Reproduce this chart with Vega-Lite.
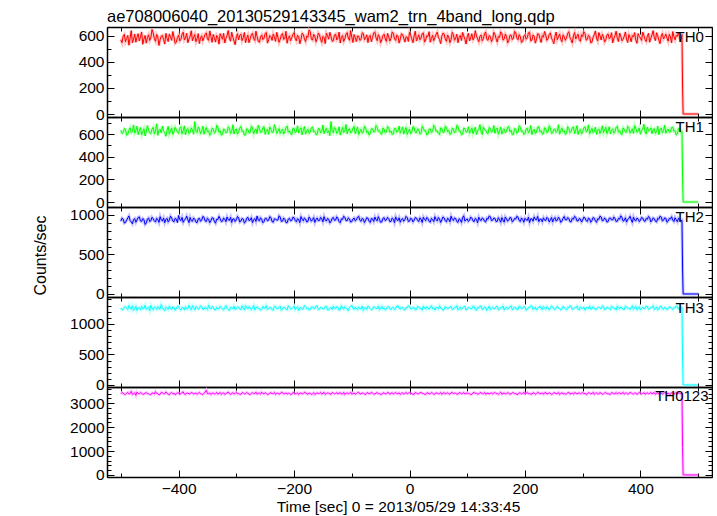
{
"$schema": "https://vega.github.io/schema/vega-lite/v6.json",
"padding": {"left": 31, "top": 9, "right": 0, "bottom": 0},
"bounds": "flush",
"spacing": 0,
"title": {"text": "ae708006040_20130529143345_wam2_trn_4band_long.qdp", "anchor": "start", "frame": "group", "offset": -3, "fontSize": 16.5, "fontWeight": "normal", "font": "Liberation Sans", "color": "black"},
"config": {
  "font": "Liberation Sans",
  "view": {"stroke": "black", "strokeWidth": 1},
  "concat": {"spacing": 0},
  "axis": {"grid": false, "domainColor": "black", "domainWidth": 1.5, "tickColor": "black", "tickWidth": 1, "labelColor": "black", "titleColor": "black", "labelFont": "Liberation Sans", "titleFont": "Liberation Sans", "labelFontSize": 15.5, "titleFontSize": 16, "titleFontWeight": "normal", "labelOverlap": false, "labelFlush": false, "labelBound": false}
},
"datasets": {"lc": [
{"t":-500,"a":571,"b":633,"c":921,"d":1262,"e":3391},
{"t":-498,"a":548,"b":605,"c":960,"d":1229,"e":3442},
{"t":-496,"a":598,"b":612,"c":948,"d":1240,"e":3420},
{"t":-494,"a":612,"b":648,"c":897,"d":1274,"e":3368},
{"t":-492,"a":556,"b":641,"c":905,"d":1281,"e":3372},
{"t":-490,"a":580,"b":589,"c":935,"d":1250,"e":3409},
{"t":-488,"a":604,"b":598,"c":962,"d":1233,"e":3448},
{"t":-486,"a":529,"b":633,"c":988,"d":1301,"e":3386},
{"t":-484,"a":583,"b":655,"c":930,"d":1270,"e":3405},
{"t":-482,"a":641,"b":611,"c":912,"d":1238,"e":3495},
{"t":-480,"a":547,"b":620,"c":889,"d":1296,"e":3362},
{"t":-478,"a":575,"b":680,"c":941,"d":1222,"e":3401},
{"t":-476,"a":615,"b":607,"c":954,"d":1248,"e":3431},
{"t":-474,"a":552,"b":631,"c":908,"d":1289,"e":3327},
{"t":-472,"a":590,"b":668,"c":937,"d":1219,"e":3466},
{"t":-470,"a":617,"b":594,"c":969,"d":1257,"e":3412},
{"t":-468,"a":562,"b":628,"c":976,"d":1265,"e":3389},
{"t":-466,"a":593,"b":657,"c":925,"d":1233,"e":3450},
{"t":-464,"a":631,"b":594,"c":918,"d":1287,"e":3410},
{"t":-462,"a":536,"b":621,"c":955,"d":1245,"e":3371},
{"t":-460,"a":577,"b":646,"c":941,"d":1251,"e":3377},
{"t":-458,"a":604,"b":583,"c":880,"d":1306,"e":3423},
{"t":-456,"a":545,"b":619,"c":899,"d":1238,"e":3442},
{"t":-454,"a":588,"b":674,"c":947,"d":1262,"e":3396},
{"t":-452,"a":609,"b":637,"c":963,"d":1276,"e":3398},
{"t":-450,"a":566,"b":610,"c":918,"d":1214,"e":3358},
{"t":-448,"a":586,"b":603,"c":927,"d":1301,"e":3356},
{"t":-446,"a":650,"b":644,"c":971,"d":1256,"e":3429},
{"t":-444,"a":623,"b":659,"c":952,"d":1229,"e":3417},
{"t":-442,"a":580,"b":602,"c":926,"d":1281,"e":3385},
{"t":-440,"a":559,"b":625,"c":911,"d":1259,"e":3483},
{"t":-438,"a":611,"b":690,"c":958,"d":1237,"e":3406},
{"t":-436,"a":594,"b":588,"c":944,"d":1283,"e":3401},
{"t":-434,"a":527,"b":633,"c":906,"d":1248,"e":3344},
{"t":-432,"a":571,"b":642,"c":979,"d":1242,"e":3369},
{"t":-430,"a":599,"b":609,"c":937,"d":1318,"e":3451},
{"t":-428,"a":604,"b":671,"c":925,"d":1267,"e":3437},
{"t":-426,"a":573,"b":624,"c":961,"d":1230,"e":3390},
{"t":-424,"a":538,"b":615,"c":903,"d":1215,"e":3392},
{"t":-422,"a":620,"b":580,"c":944,"d":1277,"e":3470},
{"t":-420,"a":582,"b":632,"c":957,"d":1254,"e":3414},
{"t":-418,"a":557,"b":667,"c":912,"d":1236,"e":3375},
{"t":-416,"a":616,"b":599,"c":936,"d":1292,"e":3351},
{"t":-414,"a":590,"b":626,"c":985,"d":1260,"e":3419},
{"t":-412,"a":567,"b":653,"c":962,"d":1236,"e":3446},
{"t":-410,"a":634,"b":597,"c":924,"d":1279,"e":3398},
{"t":-408,"a":592,"b":621,"c":915,"d":1271,"e":3408},
{"t":-406,"a":543,"b":659,"c":957,"d":1224,"e":3363},
{"t":-404,"a":551,"b":640,"c":948,"d":1249,"e":3383},
{"t":-402,"a":588,"b":615,"c":904,"d":1290,"e":3437},
{"t":-400,"a":607,"b":606,"c":994,"d":1288,"e":3427},
{"t":-398,"a":562,"b":651,"c":942,"d":1245,"e":3374},
{"t":-396,"a":574,"b":664,"c":930,"d":1225,"e":3398},
{"t":-394,"a":613,"b":600,"c":969,"d":1268,"e":3452},
{"t":-392,"a":629,"b":628,"c":907,"d":1263,"e":3471},
{"t":-390,"a":569,"b":672,"c":934,"d":1233,"e":3381},
{"t":-388,"a":585,"b":592,"c":951,"d":1281,"e":3366},
{"t":-386,"a":621,"b":639,"c":986,"d":1247,"e":3425},
{"t":-384,"a":548,"b":647,"c":939,"d":1244,"e":3419},
{"t":-382,"a":577,"b":603,"c":903,"d":1305,"e":3392},
{"t":-380,"a":598,"b":617,"c":968,"d":1256,"e":3392},
{"t":-378,"a":640,"b":654,"c":927,"d":1230,"e":3448},
{"t":-376,"a":563,"b":635,"c":921,"d":1297,"e":3436},
{"t":-374,"a":591,"b":598,"c":962,"d":1263,"e":3380},
{"t":-372,"a":611,"b":709,"c":945,"d":1232,"e":3405},
{"t":-370,"a":556,"b":624,"c":910,"d":1284,"e":3427},
{"t":-368,"a":579,"b":611,"c":902,"d":1268,"e":3372},
{"t":-366,"a":618,"b":661,"c":951,"d":1241,"e":3417},
{"t":-364,"a":542,"b":644,"c":958,"d":1251,"e":3450},
{"t":-362,"a":585,"b":603,"c":921,"d":1296,"e":3390},
{"t":-360,"a":601,"b":622,"c":934,"d":1285,"e":3389},
{"t":-358,"a":563,"b":670,"c":981,"d":1238,"e":3357},
{"t":-356,"a":587,"b":598,"c":972,"d":1239,"e":3413},
{"t":-354,"a":612,"b":635,"c":925,"d":1272,"e":3466},
{"t":-352,"a":624,"b":657,"c":917,"d":1262,"e":3540},
{"t":-350,"a":578,"b":617,"c":959,"d":1233,"e":3398},
{"t":-348,"a":566,"b":629,"c":946,"d":1307,"e":3395},
{"t":-346,"a":639,"b":589,"c":903,"d":1260,"e":3431},
{"t":-344,"a":597,"b":604,"c":928,"d":1246,"e":3361},
{"t":-342,"a":551,"b":652,"c":966,"d":1285,"e":3418},
{"t":-340,"a":612,"b":641,"c":960,"d":1273,"e":3428},
{"t":-338,"a":586,"b":608,"c":920,"d":1229,"e":3379},
{"t":-336,"a":553,"b":617,"c":896,"d":1228,"e":3402},
{"t":-334,"a":604,"b":676,"c":947,"d":1270,"e":3452},
{"t":-332,"a":589,"b":662,"c":942,"d":1259,"e":3378},
{"t":-330,"a":537,"b":615,"c":983,"d":1244,"e":3411},
{"t":-328,"a":618,"b":630,"c":953,"d":1289,"e":3446},
{"t":-326,"a":596,"b":591,"c":917,"d":1262,"e":3368},
{"t":-324,"a":575,"b":595,"c":921,"d":1241,"e":3411},
{"t":-322,"a":620,"b":644,"c":961,"d":1225,"e":3432},
{"t":-320,"a":546,"b":638,"c":948,"d":1270,"e":3365},
{"t":-318,"a":581,"b":610,"c":914,"d":1299,"e":3399},
{"t":-316,"a":603,"b":614,"c":975,"d":1252,"e":3432},
{"t":-314,"a":642,"b":663,"c":940,"d":1236,"e":3468},
{"t":-312,"a":584,"b":651,"c":931,"d":1222,"e":3398},
{"t":-310,"a":560,"b":605,"c":970,"d":1273,"e":3362},
{"t":-308,"a":629,"b":623,"c":906,"d":1264,"e":3419},
{"t":-306,"a":590,"b":682,"c":949,"d":1248,"e":3437},
{"t":-304,"a":561,"b":600,"c":950,"d":1291,"e":3387},
{"t":-302,"a":533,"b":637,"c":918,"d":1233,"e":3405},
{"t":-300,"a":593,"b":645,"c":938,"d":1247,"e":3453},
{"t":-298,"a":617,"b":598,"c":981,"d":1279,"e":3390},
{"t":-296,"a":570,"b":619,"c":962,"d":1276,"e":3404},
{"t":-294,"a":605,"b":652,"c":911,"d":1241,"e":3371},
{"t":-292,"a":614,"b":668,"c":924,"d":1236,"e":3371},
{"t":-290,"a":564,"b":622,"c":956,"d":1295,"e":3439},
{"t":-288,"a":588,"b":627,"c":947,"d":1260,"e":3426},
{"t":-286,"a":627,"b":590,"c":898,"d":1230,"e":3384},
{"t":-284,"a":549,"b":593,"c":912,"d":1298,"e":3395},
{"t":-282,"a":583,"b":647,"c":959,"d":1265,"e":3448},
{"t":-280,"a":606,"b":639,"c":970,"d":1244,"e":3414},
{"t":-278,"a":548,"b":609,"c":929,"d":1281,"e":3373},
{"t":-276,"a":578,"b":612,"c":935,"d":1268,"e":3359},
{"t":-274,"a":609,"b":670,"c":966,"d":1232,"e":3420},
{"t":-272,"a":621,"b":656,"c":903,"d":1251,"e":3441},
{"t":-270,"a":580,"b":601,"c":942,"d":1302,"e":3393},
{"t":-268,"a":565,"b":631,"c":954,"d":1229,"e":3400},
{"t":-266,"a":637,"b":645,"c":918,"d":1260,"e":3462},
{"t":-264,"a":596,"b":602,"c":988,"d":1282,"e":3377},
{"t":-262,"a":559,"b":678,"c":936,"d":1245,"e":3412},
{"t":-260,"a":552,"b":646,"c":926,"d":1257,"e":3429},
{"t":-258,"a":594,"b":613,"c":965,"d":1224,"e":3381},
{"t":-256,"a":608,"b":620,"c":944,"d":1238,"e":3462},
{"t":-254,"a":572,"b":656,"c":901,"d":1286,"e":3407},
{"t":-252,"a":583,"b":664,"c":917,"d":1272,"e":3388},
{"t":-250,"a":619,"b":597,"c":957,"d":1250,"e":3436},
{"t":-248,"a":627,"b":633,"c":958,"d":1300,"e":3411},
{"t":-246,"a":545,"b":641,"c":926,"d":1238,"e":3358},
{"t":-244,"a":571,"b":597,"c":933,"d":1245,"e":3375},
{"t":-242,"a":603,"b":662,"c":979,"d":1273,"e":3426},
{"t":-240,"a":594,"b":640,"c":966,"d":1263,"e":3437},
{"t":-238,"a":566,"b":614,"c":915,"d":1228,"e":3394},
{"t":-236,"a":615,"b":616,"c":909,"d":1226,"e":3402},
{"t":-234,"a":590,"b":683,"c":952,"d":1291,"e":3449},
{"t":-232,"a":558,"b":652,"c":949,"d":1279,"e":3366},
{"t":-230,"a":628,"b":606,"c":932,"d":1247,"e":3413},
{"t":-228,"a":591,"b":625,"c":937,"d":1253,"e":3420},
{"t":-226,"a":551,"b":648,"c":990,"d":1266,"e":3376},
{"t":-224,"a":573,"b":606,"c":974,"d":1289,"e":3391},
{"t":-222,"a":607,"b":630,"c":919,"d":1221,"e":3455},
{"t":-220,"a":619,"b":643,"c":921,"d":1240,"e":3449},
{"t":-218,"a":574,"b":600,"c":961,"d":1274,"e":3387},
{"t":-216,"a":580,"b":618,"c":945,"d":1266,"e":3405},
{"t":-214,"a":636,"b":659,"c":905,"d":1239,"e":3428},
{"t":-212,"a":544,"b":671,"c":902,"d":1231,"e":3383},
{"t":-210,"a":587,"b":616,"c":947,"d":1297,"e":3412},
{"t":-208,"a":601,"b":628,"c":958,"d":1275,"e":3416},
{"t":-206,"a":563,"b":601,"c":926,"d":1243,"e":3364},
{"t":-204,"a":586,"b":594,"c":931,"d":1248,"e":3370},
{"t":-202,"a":611,"b":650,"c":971,"d":1268,"e":3445},
{"t":-200,"a":625,"b":649,"c":967,"d":1293,"e":3435},
{"t":-198,"a":582,"b":612,"c":930,"d":1233,"e":3393},
{"t":-196,"a":563,"b":621,"c":913,"d":1257,"e":3398},
{"t":-194,"a":604,"b":672,"c":953,"d":1282,"e":3437},
{"t":-192,"a":597,"b":608,"c":942,"d":1220,"e":3361},
{"t":-190,"a":540,"b":637,"c":903,"d":1260,"e":3420},
{"t":-188,"a":572,"b":655,"c":980,"d":1269,"e":3427},
{"t":-186,"a":621,"b":593,"c":947,"d":1239,"e":3389},
{"t":-184,"a":613,"b":632,"c":926,"d":1244,"e":3403},
{"t":-182,"a":578,"b":666,"c":962,"d":1301,"e":3456},
{"t":-180,"a":556,"b":599,"c":949,"d":1285,"e":3445},
{"t":-178,"a":600,"b":628,"c":911,"d":1249,"e":3382},
{"t":-176,"a":590,"b":643,"c":918,"d":1261,"e":3379},
{"t":-174,"a":646,"b":607,"c":975,"d":1228,"e":3421},
{"t":-172,"a":633,"b":614,"c":955,"d":1235,"e":3412},
{"t":-170,"a":577,"b":655,"c":921,"d":1278,"e":3366},
{"t":-168,"a":568,"b":661,"c":939,"d":1278,"e":3394},
{"t":-166,"a":612,"b":620,"c":968,"d":1254,"e":3440},
{"t":-164,"a":599,"b":626,"c":906,"d":1250,"e":3368},
{"t":-162,"a":555,"b":596,"c":943,"d":1291,"e":3401},
{"t":-160,"a":577,"b":595,"c":962,"d":1294,"e":3431},
{"t":-158,"a":623,"b":648,"c":927,"d":1232,"e":3399},
{"t":-156,"a":610,"b":647,"c":930,"d":1238,"e":3407},
{"t":-154,"a":574,"b":609,"c":970,"d":1270,"e":3453},
{"t":-152,"a":551,"b":622,"c":951,"d":1266,"e":3382},
{"t":-150,"a":597,"b":679,"c":913,"d":1243,"e":3416},
{"t":-148,"a":588,"b":603,"c":979,"d":1245,"e":3452},
{"t":-146,"a":541,"b":635,"c":938,"d":1286,"e":3372},
{"t":-144,"a":622,"b":650,"c":923,"d":1283,"e":3399},
{"t":-142,"a":603,"b":612,"c":956,"d":1229,"e":3428},
{"t":-140,"a":575,"b":629,"c":946,"d":1227,"e":3415},
{"t":-138,"a":628,"b":585,"c":900,"d":1265,"e":3384},
{"t":-136,"a":596,"b":710,"c":914,"d":1262,"e":3373},
{"t":-134,"a":560,"b":631,"c":959,"d":1238,"e":3442},
{"t":-132,"a":562,"b":612,"c":968,"d":1290,"e":3426},
{"t":-130,"a":606,"b":657,"c":932,"d":1257,"e":3393},
{"t":-128,"a":615,"b":645,"c":935,"d":1249,"e":3404},
{"t":-126,"a":570,"b":605,"c":977,"d":1281,"e":3441},
{"t":-124,"a":584,"b":619,"c":957,"d":1271,"e":3385},
{"t":-122,"a":630,"b":664,"c":916,"d":1226,"e":3418},
{"t":-120,"a":546,"b":590,"c":901,"d":1233,"e":3440},
{"t":-118,"a":591,"b":626,"c":950,"d":1296,"e":3378},
{"t":-116,"a":603,"b":658,"c":944,"d":1258,"e":3396},
{"t":-114,"a":558,"b":614,"c":983,"d":1240,"e":3450},
{"t":-112,"a":579,"b":627,"c":971,"d":1281,"e":3362},
{"t":-110,"a":615,"b":684,"c":928,"d":1264,"e":3409},
{"t":-108,"a":626,"b":601,"c":927,"d":1242,"e":3433},
{"t":-106,"a":583,"b":636,"c":964,"d":1217,"e":3389},
{"t":-104,"a":567,"b":648,"c":950,"d":1269,"e":3410},
{"t":-102,"a":642,"b":608,"c":910,"d":1285,"e":3461},
{"t":-100,"a":592,"b":622,"c":916,"d":1303,"e":3377},
{"t":-98,"a":550,"b":650,"c":948,"d":1252,"e":3403},
{"t":-96,"a":611,"b":667,"c":962,"d":1237,"e":3424},
{"t":-94,"a":586,"b":601,"c":925,"d":1274,"e":3372},
{"t":-92,"a":557,"b":630,"c":938,"d":1255,"e":3401},
{"t":-90,"a":600,"b":663,"c":972,"d":1231,"e":3447},
{"t":-88,"a":598,"b":596,"c":983,"d":1277,"e":3455},
{"t":-86,"a":566,"b":621,"c":933,"d":1249,"e":3387},
{"t":-84,"a":573,"b":641,"c":920,"d":1246,"e":3388},
{"t":-82,"a":625,"b":608,"c":957,"d":1288,"e":3430},
{"t":-80,"a":618,"b":615,"c":947,"d":1224,"e":3414},
{"t":-78,"a":571,"b":669,"c":904,"d":1260,"e":3371},
{"t":-76,"a":585,"b":653,"c":932,"d":1266,"e":3369},
{"t":-74,"a":609,"b":612,"c":966,"d":1237,"e":3436},
{"t":-72,"a":549,"b":624,"c":959,"d":1292,"e":3430},
{"t":-70,"a":594,"b":590,"c":921,"d":1269,"e":3392},
{"t":-68,"a":604,"b":607,"c":905,"d":1251,"e":3397},
{"t":-66,"a":555,"b":646,"c":956,"d":1229,"e":3455},
{"t":-64,"a":589,"b":646,"c":951,"d":1239,"e":3422},
{"t":-62,"a":623,"b":617,"c":918,"d":1281,"e":3380},
{"t":-60,"a":632,"b":619,"c":974,"d":1274,"e":3384},
{"t":-58,"a":585,"b":675,"c":940,"d":1247,"e":3421},
{"t":-56,"a":564,"b":660,"c":926,"d":1257,"e":3443},
{"t":-54,"a":610,"b":624,"c":979,"d":1292,"e":3398},
{"t":-52,"a":595,"b":631,"c":943,"d":1230,"e":3406},
{"t":-50,"a":548,"b":603,"c":908,"d":1263,"e":3367},
{"t":-48,"a":571,"b":598,"c":912,"d":1288,"e":3374},
{"t":-46,"a":603,"b":652,"c":957,"d":1244,"e":3432},
{"t":-44,"a":614,"b":642,"c":965,"d":1261,"e":3418},
{"t":-42,"a":577,"b":609,"c":929,"d":1227,"e":3390},
{"t":-40,"a":558,"b":617,"c":937,"d":1245,"e":3392},
{"t":-38,"a":620,"b":666,"c":970,"d":1280,"e":3451},
{"t":-36,"a":593,"b":655,"c":954,"d":1283,"e":3437},
{"t":-34,"a":561,"b":614,"c":915,"d":1250,"e":3376},
{"t":-32,"a":581,"b":628,"c":919,"d":1236,"e":3409},
{"t":-30,"a":631,"b":595,"c":962,"d":1270,"e":3440},
{"t":-28,"a":621,"b":601,"c":948,"d":1267,"e":3381},
{"t":-26,"a":578,"b":650,"c":903,"d":1232,"e":3414},
{"t":-24,"a":566,"b":649,"c":976,"d":1252,"e":3448},
{"t":-22,"a":607,"b":615,"c":938,"d":1293,"e":3395},
{"t":-20,"a":599,"b":625,"c":930,"d":1296,"e":3400},
{"t":-18,"a":545,"b":670,"c":965,"d":1258,"e":3433},
{"t":-16,"a":576,"b":608,"c":908,"d":1241,"e":3366},
{"t":-14,"a":616,"b":632,"c":944,"d":1277,"e":3412},
{"t":-12,"a":612,"b":663,"c":955,"d":1270,"e":3428},
{"t":-10,"a":583,"b":599,"c":921,"d":1235,"e":3383},
{"t":-8,"a":553,"b":634,"c":941,"d":1228,"e":3403},
{"t":-6,"a":594,"b":657,"c":982,"d":1266,"e":3452},
{"t":-4,"a":590,"b":597,"c":967,"d":1259,"e":3387},
{"t":-2,"a":558,"b":622,"c":917,"d":1298,"e":3424},
{"t":0,"a":627,"b":644,"c":923,"d":1286,"e":3441},
{"t":2,"a":606,"b":603,"c":959,"d":1244,"e":3396},
{"t":4,"a":578,"b":620,"c":950,"d":1247,"e":3410},
{"t":6,"a":548,"b":665,"c":912,"d":1270,"e":3367},
{"t":8,"a":601,"b":657,"c":934,"d":1265,"e":3376},
{"t":10,"a":637,"b":614,"c":968,"d":1231,"e":3445},
{"t":12,"a":561,"b":611,"c":961,"d":1233,"e":3420},
{"t":14,"a":585,"b":647,"c":930,"d":1288,"e":3392},
{"t":16,"a":609,"b":639,"c":917,"d":1279,"e":3396},
{"t":18,"a":571,"b":600,"c":964,"d":1252,"e":3434},
{"t":20,"a":584,"b":605,"c":946,"d":1254,"e":3451},
{"t":22,"a":618,"b":669,"c":905,"d":1226,"e":3408},
{"t":24,"a":624,"b":651,"c":972,"d":1291,"e":3405},
{"t":26,"a":553,"b":626,"c":944,"d":1262,"e":3371},
{"t":28,"a":569,"b":626,"c":928,"d":1240,"e":3368},
{"t":30,"a":603,"b":591,"c":970,"d":1281,"e":3427},
{"t":32,"a":596,"b":600,"c":953,"d":1262,"e":3432},
{"t":34,"a":633,"b":643,"c":919,"d":1239,"e":3389},
{"t":36,"a":552,"b":645,"c":910,"d":1275,"e":3399},
{"t":38,"a":580,"b":611,"c":957,"d":1297,"e":3446},
{"t":40,"a":605,"b":622,"c":944,"d":1244,"e":3417},
{"t":42,"a":564,"b":677,"c":916,"d":1263,"e":3374},
{"t":44,"a":587,"b":664,"c":979,"d":1226,"e":3383},
{"t":46,"a":612,"b":624,"c":943,"d":1270,"e":3431},
{"t":48,"a":629,"b":629,"c":925,"d":1268,"e":3426},
{"t":50,"a":590,"b":604,"c":968,"d":1246,"e":3392},
{"t":52,"a":573,"b":595,"c":949,"d":1298,"e":3402},
{"t":54,"a":541,"b":654,"c":906,"d":1259,"e":3448},
{"t":56,"a":598,"b":648,"c":936,"d":1250,"e":3373},
{"t":58,"a":622,"b":613,"c":975,"d":1223,"e":3413},
{"t":60,"a":616,"b":616,"c":963,"d":1237,"e":3445},
{"t":62,"a":575,"b":670,"c":926,"d":1286,"e":3386},
{"t":64,"a":559,"b":658,"c":914,"d":1271,"e":3409},
{"t":66,"a":607,"b":619,"c":958,"d":1244,"e":3437},
{"t":68,"a":592,"b":632,"c":948,"d":1258,"e":3388},
{"t":70,"a":549,"b":597,"c":914,"d":1279,"e":3376},
{"t":72,"a":570,"b":603,"c":985,"d":1285,"e":3434},
{"t":74,"a":628,"b":651,"c":945,"d":1236,"e":3455},
{"t":76,"a":611,"b":644,"c":930,"d":1243,"e":3397},
{"t":78,"a":567,"b":610,"c":963,"d":1272,"e":3418},
{"t":80,"a":583,"b":621,"c":954,"d":1264,"e":3419},
{"t":82,"a":614,"b":676,"c":917,"d":1297,"e":3379},
{"t":84,"a":548,"b":668,"c":907,"d":1230,"e":3378},
{"t":86,"a":590,"b":625,"c":952,"d":1255,"e":3440},
{"t":88,"a":603,"b":627,"c":941,"d":1277,"e":3440},
{"t":90,"a":565,"b":593,"c":906,"d":1238,"e":3386},
{"t":92,"a":627,"b":598,"c":968,"d":1252,"e":3406},
{"t":94,"a":600,"b":652,"c":990,"d":1282,"e":3447},
{"t":96,"a":575,"b":646,"c":922,"d":1289,"e":3385},
{"t":98,"a":538,"b":617,"c":941,"d":1227,"e":3410},
{"t":100,"a":594,"b":619,"c":950,"d":1239,"e":3429},
{"t":102,"a":621,"b":664,"c":918,"d":1270,"e":3398},
{"t":104,"a":562,"b":607,"c":933,"d":1266,"e":3401},
{"t":106,"a":586,"b":631,"c":974,"d":1247,"e":3362},
{"t":108,"a":617,"b":654,"c":959,"d":1248,"e":3367},
{"t":110,"a":570,"b":602,"c":925,"d":1289,"e":3431},
{"t":112,"a":586,"b":630,"c":916,"d":1281,"e":3454},
{"t":114,"a":641,"b":661,"c":957,"d":1234,"e":3403},
{"t":116,"a":600,"b":596,"c":945,"d":1225,"e":3412},
{"t":118,"a":578,"b":627,"c":903,"d":1268,"e":3376},
{"t":120,"a":555,"b":642,"c":972,"d":1260,"e":3390},
{"t":122,"a":597,"b":683,"c":939,"d":1291,"e":3441},
{"t":124,"a":608,"b":618,"c":929,"d":1293,"e":3436},
{"t":126,"a":563,"b":596,"c":962,"d":1236,"e":3392},
{"t":128,"a":580,"b":662,"c":952,"d":1245,"e":3398},
{"t":130,"a":619,"b":637,"c":920,"d":1276,"e":3450},
{"t":132,"a":631,"b":633,"c":911,"d":1269,"e":3371},
{"t":134,"a":574,"b":609,"c":958,"d":1221,"e":3414},
{"t":136,"a":567,"b":602,"c":946,"d":1254,"e":3425},
{"t":138,"a":604,"b":658,"c":987,"d":1288,"e":3386},
{"t":140,"a":596,"b":649,"c":978,"d":1232,"e":3407},
{"t":142,"a":556,"b":616,"c":929,"d":1259,"e":3439},
{"t":144,"a":573,"b":623,"c":934,"d":1276,"e":3382},
{"t":146,"a":628,"b":675,"c":961,"d":1245,"e":3423},
{"t":148,"a":612,"b":606,"c":957,"d":1251,"e":3447},
{"t":150,"a":579,"b":640,"c":916,"d":1283,"e":3395},
{"t":152,"a":553,"b":653,"c":920,"d":1287,"e":3403},
{"t":154,"a":597,"b":598,"c":966,"d":1230,"e":3370},
{"t":156,"a":589,"b":628,"c":943,"d":1241,"e":3418},
{"t":158,"a":632,"b":661,"c":908,"d":1271,"e":3461},
{"t":160,"a":619,"b":599,"c":967,"d":1263,"e":3376},
{"t":162,"a":568,"b":630,"c":935,"d":1295,"e":3408},
{"t":164,"a":576,"b":645,"c":909,"d":1228,"e":3432},
{"t":166,"a":615,"b":612,"c":975,"d":1262,"e":3384},
{"t":168,"a":598,"b":621,"c":951,"d":1271,"e":3395},
{"t":170,"a":547,"b":660,"c":922,"d":1240,"e":3447},
{"t":172,"a":564,"b":667,"c":936,"d":1256,"e":3414},
{"t":174,"a":606,"b":619,"c":968,"d":1283,"e":3372},
{"t":176,"a":607,"b":634,"c":964,"d":1295,"e":3387},
{"t":178,"a":572,"b":594,"c":913,"d":1233,"e":3432},
{"t":180,"a":583,"b":597,"c":925,"d":1244,"e":3439},
{"t":182,"a":636,"b":648,"c":956,"d":1273,"e":3398},
{"t":184,"a":625,"b":642,"c":948,"d":1266,"e":3402},
{"t":186,"a":584,"b":606,"c":984,"d":1231,"e":3366},
{"t":188,"a":571,"b":616,"c":973,"d":1237,"e":3369},
{"t":190,"a":610,"b":673,"c":928,"d":1290,"e":3433},
{"t":192,"a":594,"b":659,"c":917,"d":1280,"e":3428},
{"t":194,"a":551,"b":622,"c":962,"d":1249,"e":3391},
{"t":196,"a":558,"b":627,"c":944,"d":1253,"e":3405},
{"t":198,"a":599,"b":596,"c":908,"d":1286,"e":3455},
{"t":200,"a":610,"b":604,"c":958,"d":1274,"e":3383},
{"t":202,"a":575,"b":645,"c":939,"d":1224,"e":3417},
{"t":204,"a":586,"b":651,"c":931,"d":1240,"e":3451},
{"t":206,"a":624,"b":610,"c":972,"d":1268,"e":3394},
{"t":208,"a":629,"b":625,"c":904,"d":1262,"e":3407},
{"t":210,"a":562,"b":676,"c":951,"d":1297,"e":3378},
{"t":212,"a":568,"b":595,"c":952,"d":1289,"e":3378},
{"t":214,"a":608,"b":628,"c":921,"d":1236,"e":3440},
{"t":216,"a":597,"b":643,"c":976,"d":1247,"e":3420},
{"t":218,"a":545,"b":604,"c":944,"d":1275,"e":3375},
{"t":220,"a":575,"b":618,"c":938,"d":1226,"e":3396},
{"t":222,"a":617,"b":661,"c":982,"d":1259,"e":3452},
{"t":224,"a":614,"b":664,"c":915,"d":1268,"e":3434},
{"t":226,"a":580,"b":619,"c":947,"d":1288,"e":3387},
{"t":228,"a":550,"b":631,"c":947,"d":1257,"e":3410},
{"t":230,"a":603,"b":598,"c":913,"d":1232,"e":3425},
{"t":232,"a":591,"b":602,"c":964,"d":1283,"e":3372},
{"t":234,"a":635,"b":655,"c":935,"d":1260,"e":3437},
{"t":236,"a":606,"b":647,"c":929,"d":1239,"e":3443},
{"t":238,"a":566,"b":611,"c":970,"d":1282,"e":3384},
{"t":240,"a":579,"b":620,"c":955,"d":1264,"e":3399},
{"t":242,"a":611,"b":672,"c":912,"d":1227,"e":3431},
{"t":244,"a":624,"b":657,"c":940,"d":1250,"e":3417},
{"t":246,"a":583,"b":606,"c":968,"d":1293,"e":3366},
{"t":248,"a":566,"b":609,"c":911,"d":1277,"e":3386},
{"t":250,"a":540,"b":643,"c":951,"d":1245,"e":3441},
{"t":252,"a":599,"b":641,"c":968,"d":1234,"e":3428},
{"t":254,"a":630,"b":614,"c":924,"d":1264,"e":3395},
{"t":256,"a":572,"b":625,"c":933,"d":1291,"e":3404},
{"t":258,"a":593,"b":682,"c":972,"d":1254,"e":3452},
{"t":260,"a":615,"b":598,"c":950,"d":1258,"e":3365},
{"t":262,"a":574,"b":631,"c":906,"d":1229,"e":3407},
{"t":264,"a":556,"b":652,"c":922,"d":1243,"e":3437},
{"t":266,"a":609,"b":618,"c":957,"d":1287,"e":3389},
{"t":268,"a":593,"b":629,"c":981,"d":1272,"e":3408},
{"t":270,"a":567,"b":597,"c":938,"d":1249,"e":3374},
{"t":272,"a":585,"b":605,"c":937,"d":1229,"e":3391},
{"t":274,"a":620,"b":664,"c":967,"d":1270,"e":3436},
{"t":276,"a":633,"b":648,"c":956,"d":1265,"e":3449},
{"t":278,"a":587,"b":611,"c":915,"d":1297,"e":3380},
{"t":280,"a":570,"b":621,"c":913,"d":1286,"e":3401},
{"t":282,"a":546,"b":657,"c":958,"d":1237,"e":3423},
{"t":284,"a":601,"b":661,"c":946,"d":1248,"e":3375},
{"t":286,"a":626,"b":603,"c":983,"d":1262,"e":3443},
{"t":288,"a":577,"b":634,"c":970,"d":1261,"e":3423},
{"t":290,"a":598,"b":674,"c":926,"d":1290,"e":3388},
{"t":292,"a":613,"b":596,"c":924,"d":1236,"e":3406},
{"t":294,"a":571,"b":632,"c":955,"d":1228,"e":3438},
{"t":296,"a":559,"b":640,"c":949,"d":1279,"e":3387},
{"t":298,"a":610,"b":601,"c":910,"d":1253,"e":3419},
{"t":300,"a":595,"b":617,"c":935,"d":1254,"e":3441},
{"t":302,"a":632,"b":656,"c":973,"d":1276,"e":3398},
{"t":304,"a":620,"b":663,"c":963,"d":1227,"e":3410},
{"t":306,"a":568,"b":619,"c":929,"d":1263,"e":3365},
{"t":308,"a":574,"b":626,"c":918,"d":1270,"e":3379},
{"t":310,"a":605,"b":681,"c":960,"d":1248,"e":3442},
{"t":312,"a":597,"b":603,"c":952,"d":1292,"e":3426},
{"t":314,"a":548,"b":628,"c":908,"d":1240,"e":3389},
{"t":316,"a":552,"b":650,"c":929,"d":1246,"e":3403},
{"t":318,"a":590,"b":611,"c":967,"d":1281,"e":3457},
{"t":320,"a":608,"b":622,"c":960,"d":1263,"e":3368},
{"t":322,"a":639,"b":661,"c":927,"d":1231,"e":3414},
{"t":324,"a":584,"b":597,"c":907,"d":1238,"e":3434},
{"t":326,"a":562,"b":634,"c":952,"d":1270,"e":3387},
{"t":328,"a":626,"b":645,"c":944,"d":1276,"e":3399},
{"t":330,"a":601,"b":605,"c":986,"d":1256,"e":3440},
{"t":332,"a":569,"b":632,"c":975,"d":1251,"e":3415},
{"t":334,"a":612,"b":672,"c":926,"d":1295,"e":3374},
{"t":336,"a":593,"b":611,"c":932,"d":1285,"e":3385},
{"t":338,"a":553,"b":637,"c":962,"d":1233,"e":3426},
{"t":340,"a":571,"b":659,"c":948,"d":1242,"e":3450},
{"t":342,"a":608,"b":603,"c":911,"d":1272,"e":3397},
{"t":344,"a":616,"b":628,"c":916,"d":1268,"e":3405},
{"t":346,"a":578,"b":664,"c":959,"d":1245,"e":3373},
{"t":348,"a":588,"b":600,"c":962,"d":1232,"e":3372},
{"t":350,"a":625,"b":633,"c":938,"d":1290,"e":3439},
{"t":352,"a":547,"b":646,"c":937,"d":1274,"e":3429},
{"t":354,"a":582,"b":607,"c":975,"d":1250,"e":3386},
{"t":356,"a":604,"b":619,"c":954,"d":1258,"e":3401},
{"t":358,"a":637,"b":660,"c":918,"d":1227,"e":3446},
{"t":360,"a":581,"b":668,"c":921,"d":1294,"e":3388},
{"t":362,"a":557,"b":616,"c":958,"d":1262,"e":3420},
{"t":364,"a":622,"b":630,"c":946,"d":1245,"e":3437},
{"t":366,"a":598,"b":601,"c":990,"d":1277,"e":3381},
{"t":368,"a":563,"b":594,"c":969,"d":1261,"e":3410},
{"t":370,"a":575,"b":654,"c":922,"d":1236,"e":3452},
{"t":372,"a":598,"b":641,"c":931,"d":1233,"e":3378},
{"t":374,"a":631,"b":618,"c":965,"d":1288,"e":3416},
{"t":376,"a":576,"b":615,"c":910,"d":1280,"e":3424},
{"t":378,"a":550,"b":667,"c":944,"d":1254,"e":3379},
{"t":380,"a":611,"b":656,"c":955,"d":1255,"e":3400},
{"t":382,"a":589,"b":607,"c":984,"d":1236,"e":3445},
{"t":384,"a":555,"b":627,"c":941,"d":1269,"e":3441},
{"t":386,"a":603,"b":645,"c":906,"d":1296,"e":3392},
{"t":388,"a":592,"b":605,"c":973,"d":1240,"e":3383},
{"t":390,"a":626,"b":675,"c":934,"d":1263,"e":3430},
{"t":392,"a":569,"b":649,"c":926,"d":1288,"e":3415},
{"t":394,"a":543,"b":614,"c":961,"d":1231,"e":3378},
{"t":396,"a":618,"b":624,"c":950,"d":1250,"e":3396},
{"t":398,"a":596,"b":653,"c":916,"d":1279,"e":3455},
{"t":400,"a":584,"b":598,"c":934,"d":1228,"e":3432},
{"t":402,"a":566,"b":630,"c":970,"d":1266,"e":3388},
{"t":404,"a":630,"b":643,"c":961,"d":1273,"e":3405},
{"t":406,"a":604,"b":686,"c":927,"d":1245,"e":3436},
{"t":408,"a":573,"b":620,"c":919,"d":1259,"e":3374},
{"t":410,"a":557,"b":600,"c":956,"d":1292,"e":3412},
{"t":412,"a":596,"b":662,"c":945,"d":1284,"e":3427},
{"t":414,"a":621,"b":627,"c":982,"d":1237,"e":3392},
{"t":416,"a":552,"b":633,"c":968,"d":1243,"e":3409},
{"t":418,"a":583,"b":654,"c":912,"d":1270,"e":3451},
{"t":420,"a":607,"b":602,"c":930,"d":1266,"e":3387},
{"t":422,"a":641,"b":640,"c":963,"d":1298,"e":3420},
{"t":424,"a":589,"b":647,"c":953,"d":1236,"e":3446},
{"t":426,"a":564,"b":606,"c":921,"d":1253,"e":3373},
{"t":428,"a":625,"b":621,"c":912,"d":1278,"e":3402},
{"t":430,"a":601,"b":668,"c":958,"d":1226,"e":3433},
{"t":432,"a":567,"b":594,"c":947,"d":1252,"e":3380},
{"t":434,"a":541,"b":638,"c":985,"d":1283,"e":3417},
{"t":436,"a":599,"b":652,"c":976,"d":1291,"e":3420},
{"t":438,"a":619,"b":611,"c":925,"d":1247,"e":3384},
{"t":440,"a":577,"b":629,"c":933,"d":1239,"e":3397},
{"t":442,"a":594,"b":679,"c":964,"d":1271,"e":3448},
{"t":444,"a":614,"b":606,"c":958,"d":1263,"e":3436},
{"t":446,"a":585,"b":633,"c":908,"d":1231,"e":3391},
{"t":448,"a":560,"b":644,"c":922,"d":1248,"e":3411},
{"t":450,"a":612,"b":616,"c":955,"d":1280,"e":3376},
{"t":452,"a":592,"b":618,"c":949,"d":1276,"e":3371},
{"t":454,"a":547,"b":657,"c":978,"d":1254,"e":3439},
{"t":456,"a":634,"b":661,"c":937,"d":1232,"e":3425},
{"t":458,"a":596,"b":624,"c":917,"d":1268,"e":3392},
{"t":460,"a":571,"b":630,"c":965,"d":1260,"e":3404},
{"t":462,"a":605,"b":592,"c":940,"d":1296,"e":3453},
{"t":464,"a":597,"b":599,"c":914,"d":1287,"e":3388},
{"t":466,"a":628,"b":648,"c":959,"d":1241,"e":3414},
{"t":468,"a":582,"b":645,"c":944,"d":1245,"e":3430},
{"t":470,"a":556,"b":613,"c":921,"d":1275,"e":3377},
{"t":472,"a":612,"b":622,"c":931,"d":1268,"e":3406},
{"t":473,"a":208,"b":215,"c":330,"d":430,"e":1140},
{"t":474,"a":0,"b":0,"c":0,"d":0,"e":0},
{"t":500,"a":0,"b":0,"c":0,"d":0,"e":0}
]},
"vconcat": [
{
 "width": 605, "height": 90,
 "layer": [
  {"data": {"name": "lc"},
   "mark": {"type": "line", "color": "#ff9a9a", "strokeWidth": 3, "opacity": 0.6},
   "encoding": {
    "x": {"field": "t", "type": "quantitative", "scale": {"domain": [-524, 524], "nice": false, "zero": false}, "axis": null},
    "y": {"field": "a", "type": "quantitative", "scale": {"domain": [-23, 669], "nice": false, "zero": false}, "axis": null}
   }},
  {"data": {"name": "lc"},
   "mark": {"type": "line", "color": "#ff0000", "strokeWidth": 1},
   "encoding": {
    "x": {"field": "t", "type": "quantitative", "scale": {"domain": [-524, 524], "nice": false, "zero": false},
          "axis": {"orient": "bottom", "title": null, "labels": false, "values": [-500,-400,-300,-200,-100,0,100,200,300,400,500], "tickSize": {"condition": {"test": "datum.value % 200 === 0", "value": -7}, "value": -4}}},
    "y": {"field": "a", "type": "quantitative", "scale": {"domain": [-23, 669], "nice": false, "zero": false},
          "axis": {"orient": "left", "title": null, "format": "d", "values": [0,100,200,300,400,500,600], "labelExpr": "datum.value % 200 === 0 ? datum.label : ''", "labelPadding": 10, "tickSize": {"condition": {"test": "datum.value % 200 === 0", "value": -7}, "value": -4}}}
   }},
  {"data": {"values": [{"band": "TH0"}]},
   "mark": {"type": "text", "align": "right", "baseline": "middle", "fontSize": 15, "color": "black"},
   "encoding": {
    "text": {"field": "band"},
    "x": {"datum": 510, "type": "quantitative", "scale": {"domain": [-524, 524], "nice": false, "zero": false},
          "axis": {"orient": "top", "title": null, "labels": false, "values": [-500,-400,-300,-200,-100,0,100,200,300,400,500], "tickSize": {"condition": {"test": "datum.value % 200 === 0", "value": -7}, "value": -4}}},
    "y": {"datum": 592, "type": "quantitative", "scale": {"domain": [-23, 669], "nice": false, "zero": false},
          "axis": {"orient": "right", "title": null, "labels": false, "values": [0,100,200,300,400,500,600], "tickSize": {"condition": {"test": "datum.value % 200 === 0", "value": -7}, "value": -4}}}
   }}
 ],
 "resolve": {"axis": {"x": "independent", "y": "independent"}}
},
{
 "width": 605, "height": 90,
 "layer": [
  {"data": {"name": "lc"},
   "mark": {"type": "line", "color": "#9aff9a", "strokeWidth": 3, "opacity": 0.6},
   "encoding": {
    "x": {"field": "t", "type": "quantitative", "scale": {"domain": [-524, 524], "nice": false, "zero": false}, "axis": null},
    "y": {"field": "b", "type": "quantitative", "scale": {"domain": [-44, 750], "nice": false, "zero": false}, "axis": null}
   }},
  {"data": {"name": "lc"},
   "mark": {"type": "line", "color": "#00ff00", "strokeWidth": 1},
   "encoding": {
    "x": {"field": "t", "type": "quantitative", "scale": {"domain": [-524, 524], "nice": false, "zero": false},
          "axis": {"orient": "bottom", "title": null, "labels": false, "values": [-500,-400,-300,-200,-100,0,100,200,300,400,500], "tickSize": {"condition": {"test": "datum.value % 200 === 0", "value": -7}, "value": -4}}},
    "y": {"field": "b", "type": "quantitative", "scale": {"domain": [-44, 750], "nice": false, "zero": false},
          "axis": {"orient": "left", "title": null, "format": "d", "values": [0,100,200,300,400,500,600,700], "labelExpr": "datum.value % 200 === 0 ? datum.label : ''", "labelPadding": 10, "tickSize": {"condition": {"test": "datum.value % 200 === 0", "value": -7}, "value": -4}}}
   }},
  {"data": {"values": [{"band": "TH1"}]},
   "mark": {"type": "text", "align": "right", "baseline": "middle", "fontSize": 15, "color": "black"},
   "encoding": {
    "text": {"field": "band"},
    "x": {"datum": 510, "type": "quantitative", "scale": {"domain": [-524, 524], "nice": false, "zero": false},
          "axis": {"orient": "top", "title": null, "labels": false, "values": [-500,-400,-300,-200,-100,0,100,200,300,400,500], "tickSize": {"condition": {"test": "datum.value % 200 === 0", "value": -7}, "value": -4}}},
    "y": {"datum": 662, "type": "quantitative", "scale": {"domain": [-44, 750], "nice": false, "zero": false},
          "axis": {"orient": "right", "title": null, "labels": false, "values": [0,100,200,300,400,500,600,700], "tickSize": {"condition": {"test": "datum.value % 200 === 0", "value": -7}, "value": -4}}}
   }}
 ],
 "resolve": {"axis": {"x": "independent", "y": "independent"}}
},
{
 "width": 605, "height": 90,
 "layer": [
  {"data": {"name": "lc"},
   "mark": {"type": "line", "color": "#9a9aff", "strokeWidth": 3, "opacity": 0.6},
   "encoding": {
    "x": {"field": "t", "type": "quantitative", "scale": {"domain": [-524, 524], "nice": false, "zero": false}, "axis": null},
    "y": {"field": "c", "type": "quantitative", "scale": {"domain": [-38, 1101], "nice": false, "zero": false}, "axis": null}
   }},
  {"data": {"name": "lc"},
   "mark": {"type": "line", "color": "#0000ff", "strokeWidth": 1},
   "encoding": {
    "x": {"field": "t", "type": "quantitative", "scale": {"domain": [-524, 524], "nice": false, "zero": false},
          "axis": {"orient": "bottom", "title": null, "labels": false, "values": [-500,-400,-300,-200,-100,0,100,200,300,400,500], "tickSize": {"condition": {"test": "datum.value % 200 === 0", "value": -7}, "value": -4}}},
    "y": {"field": "c", "type": "quantitative", "scale": {"domain": [-38, 1101], "nice": false, "zero": false},
          "axis": {"orient": "left", "title": "Counts/sec", "titleX": -62, "titleY": 48, "titleAngle": -90, "titleAlign": "center", "titleBaseline": "alphabetic", "format": "d", "values": [0,100,200,300,400,500,600,700,800,900,1000,1100], "labelExpr": "datum.value % 500 === 0 ? datum.label : ''", "labelPadding": 10, "tickSize": {"condition": {"test": "datum.value % 500 === 0", "value": -7}, "value": -4}}}
   }},
  {"data": {"values": [{"band": "TH2"}]},
   "mark": {"type": "text", "align": "right", "baseline": "middle", "fontSize": 15, "color": "black"},
   "encoding": {
    "text": {"field": "band"},
    "x": {"datum": 510, "type": "quantitative", "scale": {"domain": [-524, 524], "nice": false, "zero": false},
          "axis": {"orient": "top", "title": null, "labels": false, "values": [-500,-400,-300,-200,-100,0,100,200,300,400,500], "tickSize": {"condition": {"test": "datum.value % 200 === 0", "value": -7}, "value": -4}}},
    "y": {"datum": 974, "type": "quantitative", "scale": {"domain": [-38, 1101], "nice": false, "zero": false},
          "axis": {"orient": "right", "title": null, "labels": false, "values": [0,100,200,300,400,500,600,700,800,900,1000,1100], "tickSize": {"condition": {"test": "datum.value % 500 === 0", "value": -7}, "value": -4}}}
   }}
 ],
 "resolve": {"axis": {"x": "independent", "y": "independent"}}
},
{
 "width": 605, "height": 90,
 "layer": [
  {"data": {"name": "lc"},
   "mark": {"type": "line", "color": "#a0ffff", "strokeWidth": 3, "opacity": 0.6},
   "encoding": {
    "x": {"field": "t", "type": "quantitative", "scale": {"domain": [-524, 524], "nice": false, "zero": false}, "axis": null},
    "y": {"field": "d", "type": "quantitative", "scale": {"domain": [-33, 1440], "nice": false, "zero": false}, "axis": null}
   }},
  {"data": {"name": "lc"},
   "mark": {"type": "line", "color": "#00ffff", "strokeWidth": 1},
   "encoding": {
    "x": {"field": "t", "type": "quantitative", "scale": {"domain": [-524, 524], "nice": false, "zero": false},
          "axis": {"orient": "bottom", "title": null, "labels": false, "values": [-500,-400,-300,-200,-100,0,100,200,300,400,500], "tickSize": {"condition": {"test": "datum.value % 200 === 0", "value": -7}, "value": -4}}},
    "y": {"field": "d", "type": "quantitative", "scale": {"domain": [-33, 1440], "nice": false, "zero": false},
          "axis": {"orient": "left", "title": null, "format": "d", "values": [0,100,200,300,400,500,600,700,800,900,1000,1100,1200,1300,1400], "labelExpr": "datum.value % 500 === 0 ? datum.label : ''", "labelPadding": 10, "tickSize": {"condition": {"test": "datum.value % 500 === 0", "value": -7}, "value": -4}}}
   }},
  {"data": {"values": [{"band": "TH3"}]},
   "mark": {"type": "text", "align": "right", "baseline": "middle", "fontSize": 15, "color": "black"},
   "encoding": {
    "text": {"field": "band"},
    "x": {"datum": 510, "type": "quantitative", "scale": {"domain": [-524, 524], "nice": false, "zero": false},
          "axis": {"orient": "top", "title": null, "labels": false, "values": [-500,-400,-300,-200,-100,0,100,200,300,400,500], "tickSize": {"condition": {"test": "datum.value % 200 === 0", "value": -7}, "value": -4}}},
    "y": {"datum": 1265, "type": "quantitative", "scale": {"domain": [-33, 1440], "nice": false, "zero": false},
          "axis": {"orient": "right", "title": null, "labels": false, "values": [0,100,200,300,400,500,600,700,800,900,1000,1100,1200,1300,1400], "tickSize": {"condition": {"test": "datum.value % 500 === 0", "value": -7}, "value": -4}}}
   }}
 ],
 "resolve": {"axis": {"x": "independent", "y": "independent"}}
},
{
 "width": 605, "height": 90,
 "layer": [
  {"data": {"name": "lc"},
   "mark": {"type": "line", "color": "#ffa0ff", "strokeWidth": 3, "opacity": 0.6},
   "encoding": {
    "x": {"field": "t", "type": "quantitative", "scale": {"domain": [-524, 524], "nice": false, "zero": false}, "axis": null},
    "y": {"field": "e", "type": "quantitative", "scale": {"domain": [-85, 3676], "nice": false, "zero": false}, "axis": null}
   }},
  {"data": {"name": "lc"},
   "mark": {"type": "line", "color": "#ff00ff", "strokeWidth": 1},
   "encoding": {
    "x": {"field": "t", "type": "quantitative", "scale": {"domain": [-524, 524], "nice": false, "zero": false},
          "axis": {"orient": "bottom", "title": "Time [sec] 0 = 2013/05/29 14:33:45", "titleX": 291, "titleY": 34, "titleAlign": "center", "titleBaseline": "alphabetic", "titleFontSize": 15.5, "format": "d", "values": [-500,-400,-300,-200,-100,0,100,200,300,400,500], "labelExpr": "datum.value % 200 === 0 ? datum.label : ''", "labelPadding": 11, "tickSize": {"condition": {"test": "datum.value % 200 === 0", "value": -7}, "value": -4}}},
    "y": {"field": "e", "type": "quantitative", "scale": {"domain": [-85, 3676], "nice": false, "zero": false},
          "axis": {"orient": "left", "title": null, "format": "d", "values": [0,200,400,600,800,1000,1200,1400,1600,1800,2000,2200,2400,2600,2800,3000,3200,3400,3600], "labelExpr": "datum.value % 1000 === 0 ? datum.label : ''", "labelPadding": 10, "tickSize": {"condition": {"test": "datum.value % 1000 === 0", "value": -7}, "value": -4}}}
   }},
  {"data": {"values": [{"band": "TH0123"}]},
   "mark": {"type": "text", "align": "right", "baseline": "middle", "fontSize": 15, "color": "black"},
   "encoding": {
    "text": {"field": "band"},
    "x": {"datum": 518, "type": "quantitative", "scale": {"domain": [-524, 524], "nice": false, "zero": false},
          "axis": {"orient": "top", "title": null, "labels": false, "values": [-500,-400,-300,-200,-100,0,100,200,300,400,500], "tickSize": {"condition": {"test": "datum.value % 200 === 0", "value": -7}, "value": -4}}},
    "y": {"datum": 3300, "type": "quantitative", "scale": {"domain": [-85, 3676], "nice": false, "zero": false},
          "axis": {"orient": "right", "title": null, "labels": false, "values": [0,200,400,600,800,1000,1200,1400,1600,1800,2000,2200,2400,2600,2800,3000,3200,3400,3600], "tickSize": {"condition": {"test": "datum.value % 1000 === 0", "value": -7}, "value": -4}}}
   }}
 ],
 "resolve": {"axis": {"x": "independent", "y": "independent"}}
}
]
}
